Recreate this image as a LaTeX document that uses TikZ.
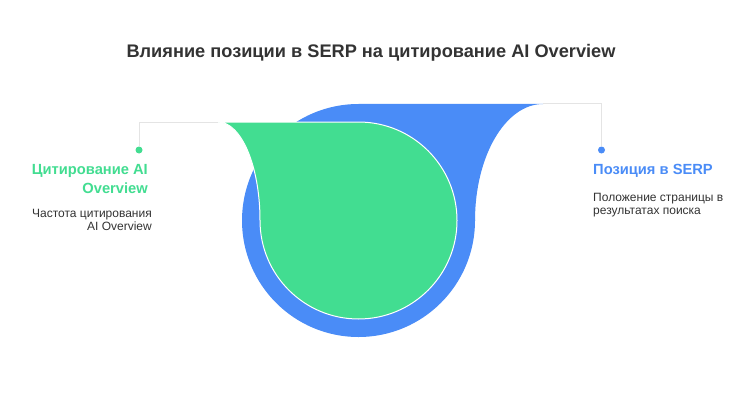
\documentclass[tikz,border=0pt]{standalone}
\usepackage{fontspec}
\setmainfont{Liberation Sans}
\usetikzlibrary{positioning}
\definecolor{serpblue}{HTML}{4A8CF7}
\definecolor{citegreen}{HTML}{42DD91}
\definecolor{inkgray}{HTML}{333333}
\definecolor{leadgray}{HTML}{E4E4E4}
\tikzset{
  dot/.style={circle, inner sep=0pt, minimum size=7pt},
  leader/.style={draw=leadgray, line width=1pt},
  heading/.style={inner sep=0pt, font=\fontsize{14.7}{18.5}\selectfont\bfseries},
  desc/.style={inner sep=0pt, text=inkgray, font=\fontsize{12}{12.6}\selectfont}
}

\begin{document}
\begin{tikzpicture}[x=1pt, y=-1pt]
\useasboundingbox[fill=white] (0,0) rectangle (751,401);
\node[anchor=base, inner sep=0pt, text=inkgray, font=\fontsize{18.2}{22}\selectfont\bfseries] (title) at (371,58) {Влияние позиции в SERP на цитирование AI Overview};
% blue drop
\fill[serpblue] (358.5,220.5) circle (116.5);
\fill[serpblue] (358.5,104) -- (543,104) .. controls (505.4,104) and (475,156.2) .. (475,220.5) -- (358.5,220.5) -- cycle;
\coordinate (btop) at (543,104);
% green drop
\filldraw[fill=citegreen, draw=white, line width=1pt] (218,122) -- (358.5,122) .. controls (412.9,122) and (457,166.1) .. (457,220.5) .. controls (457,274.9) and (412.9,319) .. (358.5,319) .. controls (304.1,319) and (260,274.9) .. (260,220.5) .. controls (260,166.1) and (241.2,122) .. (218,122) -- cycle;
\coordinate (gtop) at (217.5,122);
% leaders and labels
\node[dot, fill=citegreen] (gdot) at (139,150) {};
\node[dot, fill=serpblue] (bdot) at (601.5,150) {};
\draw[leader] (gdot) |- (gtop);
\draw[leader] (bdot) |- (btop);
\node[heading, text=citegreen, anchor=north east, align=right] (ghead) at (148,164.5) {Цитирование AI\hspace{4.5pt}\\Overview};
\node[desc, anchor=north east, align=right] (gdesc) at (152,209) {Частота цитирования\\AI Overview};
\node[heading, text=serpblue, anchor=north west, align=left] (bhead) at (593,164.5) {Позиция в SERP};
\node[desc, anchor=north west, align=left] (bdesc) at (593,193) {Положение страницы в\\результатах поиска};
\end{tikzpicture}
\end{document}
